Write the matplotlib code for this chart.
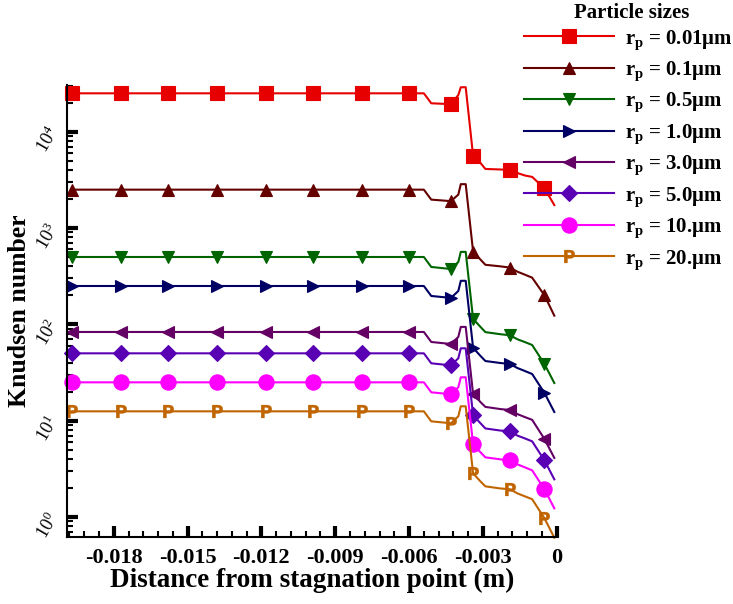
import numpy as np
import matplotlib
matplotlib.use('Agg')
from matplotlib import pyplot as plt
from matplotlib.ticker import MultipleLocator, LogLocator, FuncFormatter, NullFormatter
from matplotlib.textpath import TextPath
from matplotlib.font_manager import FontProperties
from matplotlib.path import Path

plt.rcParams['font.family'] = 'Liberation Serif'
plt.rcParams['mathtext.fontset'] = 'custom'
plt.rcParams['mathtext.rm'] = 'Liberation Serif'
plt.rcParams['mathtext.it'] = 'Liberation Serif:italic'
plt.rcParams['mathtext.bf'] = 'Liberation Serif:bold'

# distance from the stagnation point (m), shared by all particle sizes
distance = [-0.0197, -0.0177, -0.0158, -0.0138, -0.0118, -0.0099, -0.0079, -0.0060,
            -0.0054, -0.0051, -0.0043, -0.0040, -0.0039, -0.0037, -0.0034, -0.0031,
            -0.0029, -0.0023, -0.0019, -0.0016, -0.0013, -0.0010, -0.0005, -0.0001]

# points that carry a symbol
symbol_idx = [0, 1, 2, 3, 4, 5, 6, 7, 10, 14, 18, 22]

sizes = ['0.01', '0.1', '0.5', '1.0', '3.0', '5.0', '10.', '20.']

kn_001 = [25000, 25000, 25000, 25000, 25000, 25000, 25000, 25000, 25000, 19700, 19300, 24000,
          28900, 28900, 5630, 4730, 4100, 4050, 4000, 3720, 3510, 3390, 2580, 1730]
kn_01 = [2500, 2500, 2500, 2500, 2500, 2500, 2500, 2500, 2500, 1970, 1900, 2220,
         2850, 2850, 570, 470, 415, 400, 388, 352, 328, 305, 200, 123]
kn_05 = [500, 500, 500, 500, 500, 500, 500, 500, 500, 394, 375, 444,
         565, 565, 114, 94, 83, 79, 77, 70, 65.5, 61, 38.7, 24.6]
kn_1 = [250, 250, 250, 250, 250, 250, 250, 250, 250, 197, 188, 222,
        283, 283, 57, 47, 41.6, 39.7, 38.7, 35.2, 32.8, 30.5, 19.4, 12.3]
kn_3 = [83.3, 83.3, 83.3, 83.3, 83.3, 83.3, 83.3, 83.3, 83.3, 65.6, 62.5, 74,
        94, 94, 18.9, 15.6, 13.9, 13.2, 12.9, 11.7, 10.9, 10.2, 6.45, 4.1]
kn_5 = [50, 50, 50, 50, 50, 50, 50, 50, 50, 39.4, 37.5, 44.4,
        56.4, 56.4, 11.4, 9.4, 8.3, 7.9, 7.75, 7.0, 6.55, 6.1, 3.87, 2.46]
kn_10 = [25, 25, 25, 25, 25, 25, 25, 25, 25, 19.7, 18.8, 22.2,
         28.2, 28.2, 5.7, 4.7, 4.16, 3.97, 3.87, 3.52, 3.28, 3.05, 1.94, 1.23]
kn_20 = [12.5, 12.5, 12.5, 12.5, 12.5, 12.5, 12.5, 12.5, 12.5, 9.84, 9.4, 11.1,
         14.1, 14.1, 2.84, 2.34, 2.08, 1.98, 1.94, 1.76, 1.64, 1.53, 0.97, 0.61]

knudsen = [kn_001, kn_01, kn_05, kn_1, kn_3, kn_5, kn_10, kn_20]

# bold letter "P" as a centred path marker
p_path = TextPath((0, 0), 'P', prop=FontProperties(family='DejaVu Sans', weight='bold'))
p_ext = p_path.get_extents()
p_marker = Path(p_path.vertices - [(p_ext.x0 + p_ext.x1) / 2, (p_ext.y0 + p_ext.y1) / 2],
                p_path.codes)

colors = ['#e60000', '#640000', '#006400', '#000064', '#640064', '#5a00b4', '#ff00ff', '#c06400']
markers = ['s', '^', 'v', '>', '<', 'D', 'o', p_marker]
msizes = [9.5, 9, 9, 9, 9, 8, 11, 10]

fig = plt.figure(figsize=(7.33, 6.04), dpi=100)
ax = fig.add_axes([67/733, 1 - 537/604, (558 - 67)/733, (537 - 85)/604])

for i in range(len(sizes)):
    ax.plot(distance, knudsen[i], color=colors[i], lw=1.5, marker=markers[i],
            markersize=msizes[i], markevery=symbol_idx, markerfacecolor=colors[i],
            markeredgecolor=colors[i], markeredgewidth=0.8 if i < 7 else 0.2,
            label=r'$\mathbf{r}_\mathbf{p}$ = ' + sizes[i] + 'μm', clip_on=False)

ax.set_yscale('log')
ax.set_xlim(-0.0199, 0.00005)
ax.set_ylim(0.62, 30500)

ax.spines['top'].set_visible(False)
ax.spines['right'].set_visible(False)
ax.spines['left'].set_linewidth(1.5)
ax.spines['bottom'].set_linewidth(1.5)

ax.xaxis.set_major_locator(MultipleLocator(0.003))
ax.xaxis.set_minor_locator(MultipleLocator(0.0006))
ax.xaxis.set_major_formatter(FuncFormatter(lambda v, p: '0' if abs(v) < 1e-9 else f'{v:.3f}'))
ax.yaxis.set_major_locator(LogLocator(base=10, numticks=10))
ax.yaxis.set_minor_locator(LogLocator(base=10, subs=np.arange(2, 10), numticks=10))
ax.yaxis.set_minor_formatter(NullFormatter())
ax.yaxis.set_major_formatter(FuncFormatter(lambda v, p: r'$\mathregular{10^{%d}}$' % round(np.log10(v))))

ax.tick_params(which='major', direction='in', length=8, width=3)
ax.tick_params(which='minor', direction='in', length=4.5, width=1.5)
ax.tick_params(axis='x', labelsize=16, pad=8)
ax.tick_params(axis='y', labelsize=13, pad=3)
for t in ax.get_xticklabels():
    t.set_fontweight('bold')
for t in ax.get_yticklabels():
    t.set_rotation(60)

ax.set_xlabel('Distance from stagnation point (m)', fontsize=19.5, fontweight='bold', labelpad=0)
ax.set_ylabel('Knudsen number', fontsize=18.5, fontweight='bold')
ax.yaxis.set_label_coords(-0.074, 0.5)

fig.text(632/733, 1 - 13/604, 'Particle sizes', fontsize=15, fontweight='bold',
         ha='center', va='center')
fig.legend(loc='upper left', bbox_to_anchor=(522/733, 1 - 26/604), frameon=False,
           prop={'weight': 'bold', 'size': 15}, handlelength=4.3, handletextpad=0.55,
           labelspacing=0.38, borderpad=0.1, borderaxespad=0)

plt.savefig('out.png', dpi=100)
